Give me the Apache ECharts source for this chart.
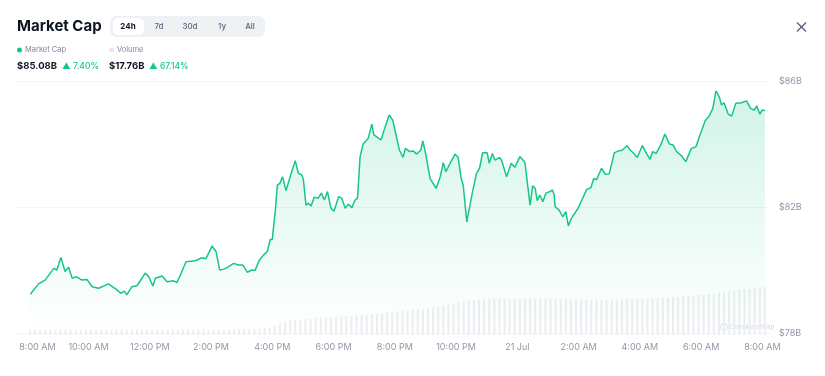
<!DOCTYPE html>
<html>
<head>
<meta charset="utf-8">
<script src="https://cdn.jsdelivr.net/npm/echarts@6/dist/echarts.min.js"></script>
<style>
html,body{margin:0;padding:0;background:#fff;}
#chart{width:825px;height:376px;}
</style>
</head>
<body>
<div id="chart"></div>
<script>
// Minutes since 8:00 AM (20 Jul) for market cap samples
const capTimes = [6,22,35,52,58,66,74,81,88,96,107,117,127,140,159,176,183,190,195,205,215,231,238,246,251,264,274,286,293,300,311,329,342,350,362,370,377,384,394,404,414,422,431,440,446,455,463,470,476,480,486,490,495,500,507,514,525,531,538,541,546,551,556,562,570,576,582,588,595,601,610,616,623,629,636,642,647,652,658,668,675,679,693,699,709,716,729,736,741,749,756,763,771,775,781,789,801,809,815,820,830,838,844,850,854,861,871,880,886,892,901,905,911,916,925,929,939,948,955,965,975,985,990,995,999,1004,1010,1016,1024,1029,1032,1034,1042,1049,1055,1060,1066,1079,1096,1104,1110,1115,1125,1132,1140,1150,1158,1166,1175,1181,1187,1195,1205,1213,1220,1225,1232,1241,1249,1258,1265,1272,1282,1290,1301,1310,1318,1328,1336,1343,1349,1356,1360,1365,1373,1380,1388,1399,1409,1417,1424,1429,1435,1440,1445];
// Market cap in billions USD
const capValues = [79.23,79.56,79.68,80.05,80.00,80.40,79.95,80.09,79.74,79.79,79.68,79.70,79.47,79.42,79.56,79.37,79.26,79.33,79.21,79.47,79.50,79.90,79.79,79.49,79.74,79.81,79.63,79.66,79.60,79.84,80.26,80.29,80.39,80.36,80.76,80.58,80.00,80.02,80.10,80.21,80.16,80.16,79.93,80.00,79.98,80.32,80.48,80.58,80.97,80.97,81.90,82.70,82.75,82.96,82.52,82.91,83.47,83.07,83.02,82.86,82.06,82.12,82.03,82.31,82.28,82.44,82.22,82.49,81.96,81.87,82.33,82.28,81.96,82.09,81.98,82.22,82.28,83.60,84.00,84.18,84.63,84.29,84.13,84.44,84.92,84.76,83.81,83.58,83.86,83.76,83.78,83.68,83.81,84.10,83.65,82.91,82.59,82.96,83.41,83.12,83.44,83.68,83.58,82.91,82.70,81.53,82.38,83.07,83.23,83.72,83.72,83.39,83.70,83.49,83.57,83.49,82.96,83.39,83.26,83.60,83.41,82.06,82.67,82.59,82.20,82.38,82.17,82.44,82.49,82.54,82.40,82.01,81.90,81.69,81.85,81.40,81.64,81.96,82.56,82.61,82.91,82.86,83.23,83.04,83.05,83.72,83.78,83.81,83.95,83.81,83.72,83.57,83.95,83.70,83.51,83.76,83.70,83.97,84.32,84.00,83.97,83.76,83.62,83.44,83.86,83.91,84.29,84.74,84.89,85.13,85.69,85.48,85.24,85.31,84.95,84.89,85.29,85.31,85.37,85.13,85.08,85.21,84.95,85.08,85.06];
// Volume (billions USD), one bar every 10 minutes starting at minute 5
const volValues = [
  1.8,1.9,1.8,1.9,1.9,1.8,1.9,2.0,1.9,1.9,1.8,1.9,
  1.9,1.9,2.0,1.9,1.9,2.0,2.0,1.9,2.0,2.0,1.9,2.0,
  2.0,2.0,1.9,2.0,2.1,2.0,2.0,2.1,2.0,2.1,2.1,2.0,
  2.1,2.1,2.0,2.1,2.1,2.2,2.2,2.3,2.3,2.4,2.6,2.9,
  3.4,4.2,4.8,5.2,5.5,5.6,5.8,6.0,6.1,6.3,6.5,6.6,
  6.7,6.8,6.9,7.0,7.1,7.3,7.4,7.6,7.8,8.0,8.3,8.5,
  8.7,8.9,9.1,9.3,9.5,9.7,9.9,10.1,10.5,10.9,11.3,11.7,
  12.1,12.5,12.8,13.0,13.1,13.2,13.3,13.3,13.3,13.4,13.3,13.4,
  13.4,13.3,13.4,13.3,13.3,13.2,13.3,13.3,13.2,13.2,13.1,13.1,
  13.1,13.0,13.0,13.0,13.0,13.1,13.1,13.1,13.2,13.2,13.3,13.3,
  13.4,13.5,13.6,13.7,13.8,13.9,14.0,14.2,14.3,14.5,14.6,14.7,
  14.9,15.1,15.4,15.7,16.0,16.3,16.5,16.8,17.0,17.2,17.4,17.6,
  17.76
];
const volTimes = volValues.map((_, i) => 5 + i * 10);
// x-axis tick labels (minutes since 8:00 AM)
const tickMinutes = [20,120,240,360,480,600,720,840,960,1080,1200,1320,1440];
const tickLabels = ['8:00 AM','10:00 AM','12:00 PM','2:00 PM','4:00 PM','6:00 PM','8:00 PM','10:00 PM','21 Jul','2:00 AM','4:00 AM','6:00 AM','8:00 AM'];
const yTicks = [78, 82, 86];

const chart = echarts.init(document.getElementById('chart'));
const FONT = 'Inter, "Noto Sans", sans-serif';
const grey = '#808a9d';
const green = '#16c784';

function txt(x, y, text, opt) {
  return Object.assign({type:'text', x:x, y:y, style:Object.assign({text:text, font:'400 8px ' + FONT, fill:grey, textVerticalAlign:'middle'}, opt || {})});
}

const tabs = [['24h',128],['7d',159],['30d',190],['1y',222],['All',250]];
const graphics = [
  txt(17, 26, 'Market Cap', {font:'700 15px ' + FONT, fill:'#0d1421'}),
  {type:'rect', shape:{x:110, y:16, width:155, height:21, r:6}, style:{fill:'#eff2f5'}},
  {type:'rect', shape:{x:113, y:18, width:31, height:17, r:5}, style:{fill:'#ffffff'}},
];
tabs.forEach((t, i) => graphics.push(txt(t[1], 27, t[0], {textAlign:'center', font:(i===0?'700 ':'500 ') + '8px ' + FONT, fill:i===0?'#0d1421':'#58667e'})));
graphics.push(
  {type:'circle', shape:{cx:19.5, cy:50, r:2.5}, style:{fill:green}},
  txt(25, 50, 'Market Cap', {font:'400 7.5px ' + FONT}),
  {type:'circle', shape:{cx:111.5, cy:50, r:2.5}, style:{fill:'#e6e8ec'}},
  txt(117, 50, 'Volume', {font:'400 7.5px ' + FONT}),
  txt(17, 66, '$85.08B', {font:'700 9.5px ' + FONT, fill:'#0d1421'}),
  txt(62, 66, '▲ 7.40%', {font:'500 8.5px ' + FONT, fill:green}),
  txt(109, 66, '$17.76B', {font:'700 9.5px ' + FONT, fill:'#0d1421'}),
  txt(149, 66, '▲ 67.14%', {font:'500 8.5px ' + FONT, fill:green}),
  {type:'line', shape:{x1:797, y1:22.5, x2:806, y2:31.5}, style:{stroke:'#58667e', lineWidth:1.4}},
  {type:'line', shape:{x1:806, y1:22.5, x2:797, y2:31.5}, style:{stroke:'#58667e', lineWidth:1.4}},
  {type:'circle', shape:{cx:724, cy:327, r:3.5}, style:{fill:'none', stroke:'#d5d9df', lineWidth:0.8}},
  txt(730, 327, 'CoinMarketCap', {font:'400 6px ' + FONT, fill:'#d5d9df'})
);

chart.setOption({
  animation: false,
  textStyle: {fontFamily: FONT},
  grid: [
    {left:15, right:55, top:81, bottom:43},
    {left:15, right:55, top:81, bottom:41}
  ],
  xAxis: [
    {type:'value', gridIndex:0, min:-24, max:1455,
     axisLine:{show:false}, axisTick:{show:false}, splitLine:{show:false},
     axisLabel:{customValues:tickMinutes, color:'#8f97a8', fontSize:9, margin:10, fontFamily:FONT,
       formatter:(v)=>{ const i = tickMinutes.indexOf(v); return i >= 0 ? tickLabels[i] : ''; }}},
    {type:'value', gridIndex:1, min:-24, max:1455, show:false}
  ],
  yAxis: [
    {type:'value', gridIndex:0, position:'right', min:78, max:86, interval:4,
     axisLine:{show:false}, axisTick:{show:false},
     axisLabel:{color:'#8f97a8', fontSize:9, margin:9, fontFamily:FONT,
       formatter:(v)=> yTicks.indexOf(v) >= 0 ? '$' + v + 'B' : ''},
     splitLine:{lineStyle:{color:'#f3f4f6', width:1}}},
    {type:'value', gridIndex:1, min:0, max:94, show:false}
  ],
  series: [
    {type:'bar', xAxisIndex:1, yAxisIndex:1, barWidth:2, silent:true,
     itemStyle:{color:'#eceef2'},
     data: volTimes.map((t, i) => [t, volValues[i]])},
    {type:'line', xAxisIndex:0, yAxisIndex:0, showSymbol:false, silent:true,
     lineStyle:{color:green, width:1.5},
     areaStyle:{color:new echarts.graphic.LinearGradient(0,0,0,1,[
       {offset:0, color:'rgba(22,199,132,0.28)'},
       {offset:1, color:'rgba(22,199,132,0)'}])},
     data: capTimes.map((t, i) => [t, capValues[i]])}
  ],
  graphic: graphics
});
</script>
</body>
</html>
